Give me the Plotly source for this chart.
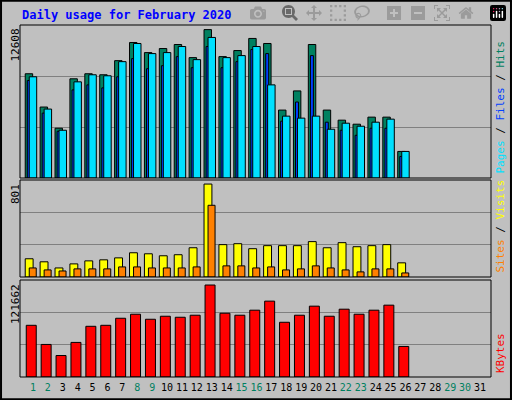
import plotly.graph_objects as go

days = list(range(1, 32))
hits = [8857, 6029, 4229, 8429, 8857, 8771, 9971, 11514, 10657, 11000, 11343, 10229, 12608,
        10314, 10829, 11857, 11429, 5771, 7400, 11343, 5771, 4914, 4571, 5171, 5171, 2257]
files = [8286, 5514, 3971, 7486, 7914, 7657, 8600, 10143, 9286, 9543, 10314, 9371, 11171,
         9371, 9886, 10914, 10571, 4829, 6457, 10400, 4743, 4057, 3629, 4229, 4229, 1829]
pages = [8600, 5857, 4057, 8171, 8771, 8686, 9886, 11429, 10571, 10657, 11171, 10057, 11943,
         10229, 10400, 11171, 7914, 5257, 5086, 5257, 4143, 4657, 4400, 4743, 5000, 2257]
visits = [157, 131, 78, 113, 139, 148, 165, 209, 200, 183, 192, 252, 801,
          279, 287, 244, 270, 270, 270, 305, 252, 296, 261, 270, 279, 122]
sites = [78, 61, 52, 70, 70, 70, 87, 87, 78, 78, 78, 87, 618,
         96, 96, 78, 87, 61, 70, 96, 78, 61, 44, 70, 70, 35]
kbytes = [68376, 43068, 28416, 45732, 67044, 68376, 77700, 83028, 76368, 80364, 79032, 81696, 121662,
          84360, 81696, 88356, 100344, 72372, 81696, 93684, 80364, 89688, 83028, 88356, 95016, 40404]
weekend = {1, 2, 8, 9, 15, 16, 22, 23, 29, 30}

n = len(hits)
d = days[:n]
line = dict(color="black", width=1)
fig = go.Figure()
fig.add_bar(x=d, y=hits, offset=-0.52, width=0.5, marker=dict(color="#008060", line=line), xaxis="x", yaxis="y")
fig.add_bar(x=d, y=files, offset=-0.38, width=0.2, marker=dict(color="#0040FF", line=line), xaxis="x", yaxis="y")
fig.add_bar(x=d, y=pages, offset=-0.25, width=0.5, marker=dict(color="#00E0FF", line=line), xaxis="x", yaxis="y")
fig.add_bar(x=d, y=visits, offset=-0.52, width=0.53, marker=dict(color="#FFFF00", line=line), xaxis="x2", yaxis="y2")
fig.add_bar(x=d, y=sites, offset=-0.25, width=0.47, marker=dict(color="#FF8000", line=line), xaxis="x2", yaxis="y2")
fig.add_bar(x=d, y=kbytes, offset=-0.45, width=0.67, marker=dict(color="#FF0000", line=line), xaxis="x3", yaxis="y3")

H = 400.0
def dom(t, b):
    return [1 - b / H, 1 - t / H]

xd = [20 / 512, 491 / 512]
xr = [0.13, 31.74]
font = "DejaVu Sans Mono"
ticktext = [("<span style='color:#008060'>%d</span>" % i) if i in weekend else str(i) for i in days]
common_y = dict(showticklabels=False, showgrid=True, gridcolor="#808080", gridwidth=1, zeroline=False, ticks="")
fig.update_layout(
    width=512, height=400, margin=dict(l=0, r=0, t=0, b=0),
    paper_bgcolor="#C0C0C0", plot_bgcolor="#C0C0C0", showlegend=False, barmode="overlay",
    font=dict(family=font, size=11, color="black"),
    xaxis=dict(domain=xd, range=xr, showticklabels=False, showgrid=False, zeroline=False, anchor="y"),
    xaxis2=dict(domain=xd, range=xr, showticklabels=False, showgrid=False, zeroline=False, anchor="y2"),
    xaxis3=dict(domain=xd, range=xr, showgrid=False, zeroline=False, anchor="y3",
                tickmode="array", tickvals=days, ticktext=ticktext, ticks="", tickangle=0,
                ticklabelstandoff=3, tickfont=dict(family=font, size=10)),
    yaxis=dict(domain=dom(25, 178), range=[0, 13000], dtick=13000 / 3, anchor="x", **common_y),
    yaxis2=dict(domain=dom(180, 277), range=[0, 836], dtick=836 / 3, anchor="x2", **common_y),
    yaxis3=dict(domain=dom(280, 377), range=[0, 128300], dtick=128300 / 3, anchor="x3", **common_y),
)

shapes = [dict(type="rect", xref="paper", yref="paper", x0=0.002, x1=0.998, y0=0.002, y1=0.998,
               line=dict(color="black", width=2))]
for t, b in [(25, 178), (180, 277), (280, 377)]:
    y0, y1 = dom(t, b)
    shapes.append(dict(type="rect", xref="paper", yref="paper", x0=xd[0], x1=xd[1], y0=y0, y1=y1,
                       line=dict(color="black", width=1), layer="above"))
fig.update_layout(shapes=shapes)

ann = [dict(text="<b>Daily usage for February 2020</b>", x=20 / 512, y=1 - 15 / H, xref="paper", yref="paper",
            xanchor="left", yanchor="middle", showarrow=False, font=dict(color="#0000FF", size=12, family=font))]
for label, t in [("12608", 25), ("801", 180), ("121662", 280)]:
    ann.append(dict(text=label, x=15 / 512, y=1 - (t + 2) / H, xref="paper", yref="paper", textangle=-90,
                    xanchor="center", yanchor="top", showarrow=False, font=dict(size=11, family=font)))
right = [
    ("<span style='color:#00E0FF'>Pages</span> / <span style='color:#0040FF'>Files</span> / <span style='color:#008060'>Hits</span>", 25, 178),
    ("<span style='color:#FF8000'>Sites</span> / <span style='color:#FFFF00'>Visits</span>", 180, 277),
    ("<span style='color:#FF0000'>KBytes</span>", 280, 377),
]
for txt, t, b in right:
    ann.append(dict(text=txt, x=500 / 512, y=1 - (b - 2) / H, xref="paper", yref="paper", textangle=-90,
                    xanchor="center", yanchor="bottom", showarrow=False, font=dict(size=11, family=font)))
fig.update_layout(annotations=ann)
fig.write_html("out.html", post_script="document.body.style.margin='0';document.body.style.overflow='hidden';")
